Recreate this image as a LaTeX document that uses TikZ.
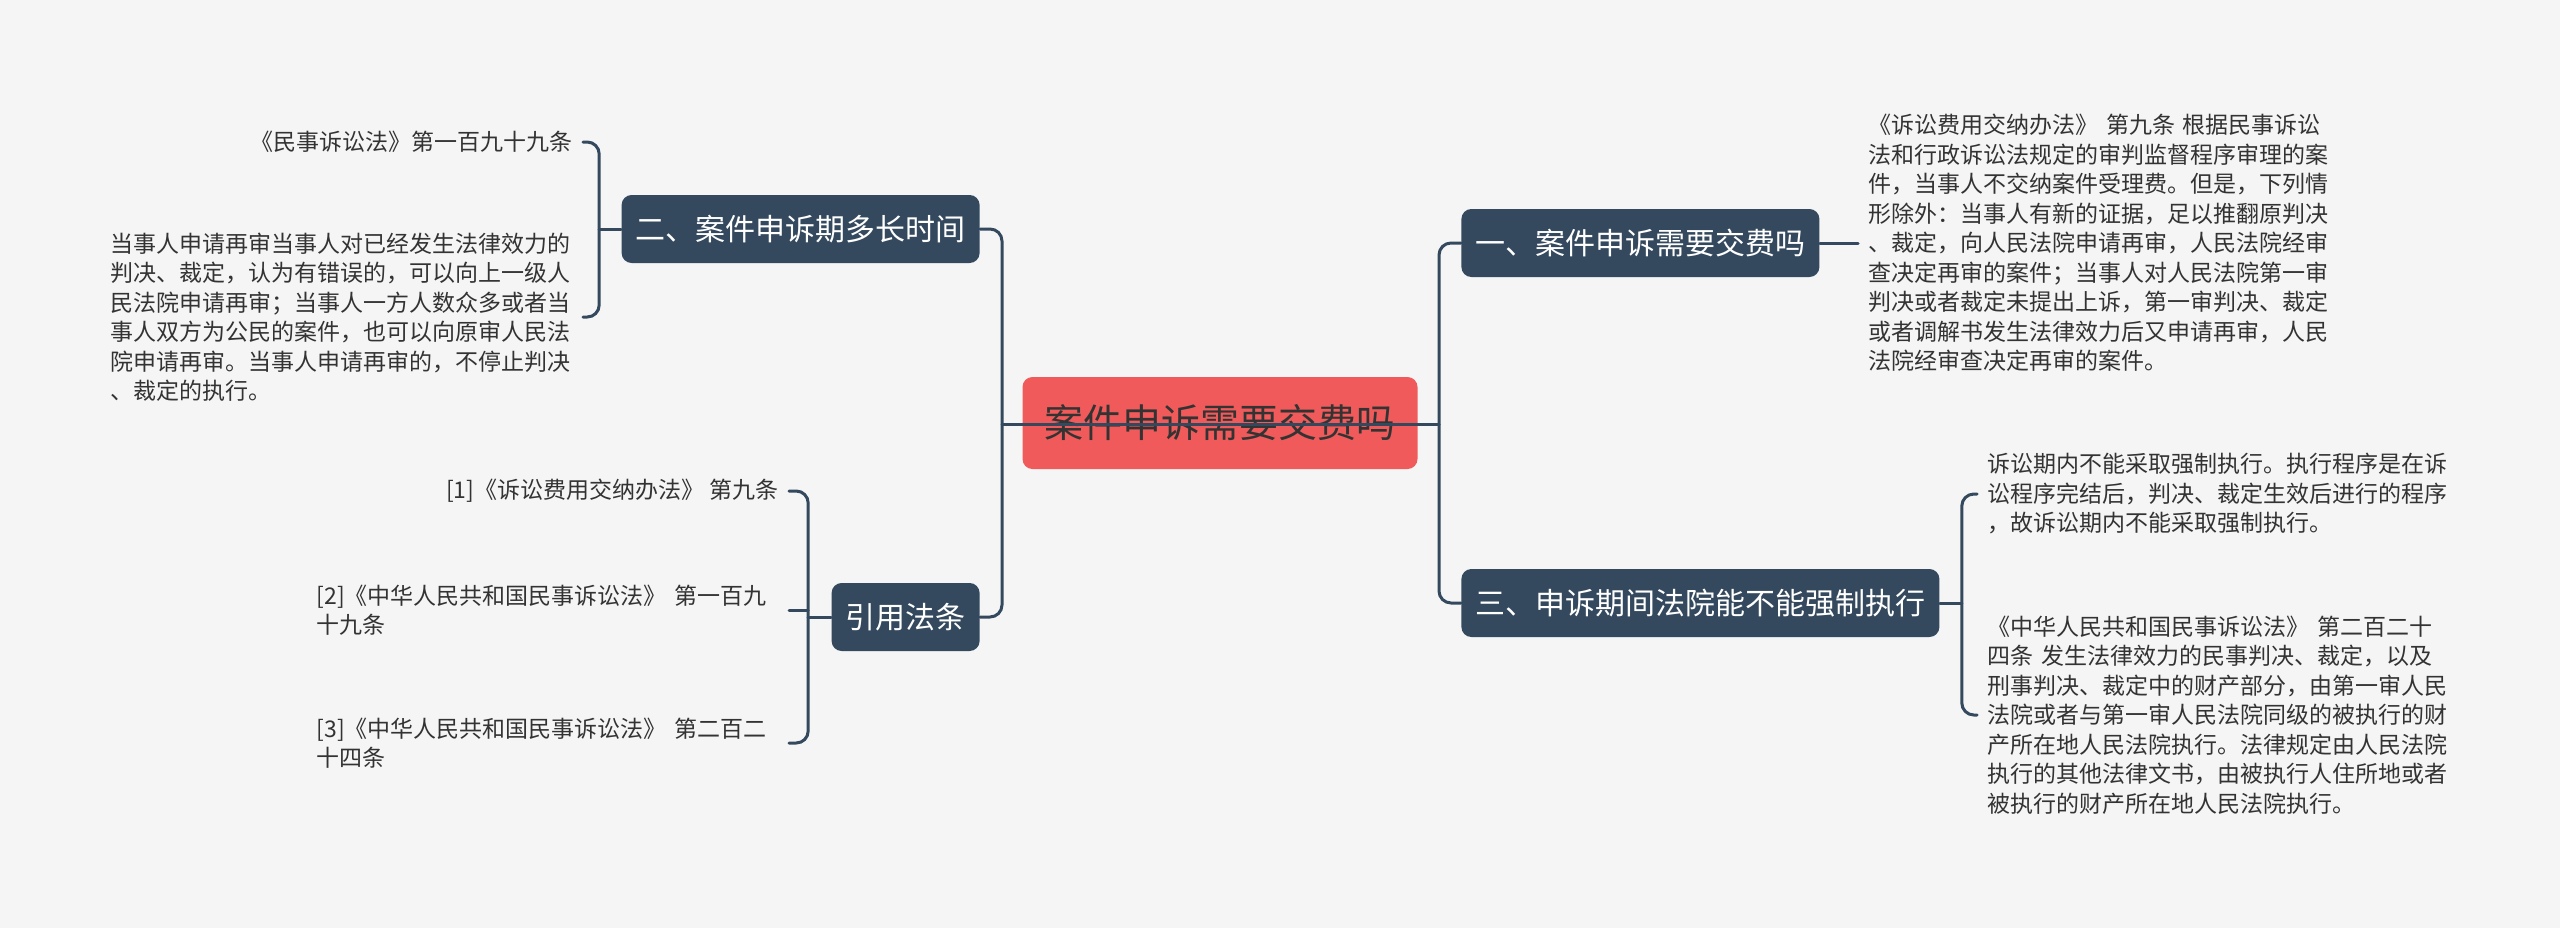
\documentclass[tikz,border=0pt]{standalone}
\usepackage{fontspec}
\setmainfont{Noto Sans CJK SC}
\definecolor{bgc}{HTML}{F5F5F5}
\definecolor{navy}{HTML}{34495E}
\definecolor{rootred}{HTML}{F05A5A}
\definecolor{txt}{HTML}{333333}
\begin{document}
\begin{tikzpicture}[x=0.5pt,y=-0.5pt, line join=round, line cap=round,
	link/.style={navy,line width=1.5pt,rounded corners=6pt},
	topic/.style={fill=navy,text=white,rounded corners=5pt,inner xsep=7pt,minimum height=34pt,font=\fontsize{15pt}{18pt}\selectfont},
	leaf/.style={text=txt,inner xsep=5pt,inner ysep=0pt,align=left,font=\fontsize{11.5pt}{14.75pt}\selectfont},
	wide/.style={leaf,text width=231pt}]
			\fill[bgc] (0,0) rectangle (2560,928);
			\node[fill=rootred,text=txt,rounded corners=5pt,inner xsep=11pt,minimum height=46pt,font=\fontsize{19.5pt}{23pt}\selectfont] (root) at (1220,423) {案件申诉需要交费吗};
			\node[topic,anchor=west] (b1) at (1461,243) {一、案件申诉需要交费吗};
			\node[topic,anchor=west] (b3) at (1461,603) {三、申诉期间法院能不能强制执行};
			\node[topic,anchor=east] (b2) at (980,229) {二、案件申诉期多长时间};
			\node[topic,anchor=east] (bref) at (980,617) {引用法条};
			\coordinate (jl) at (1002,424);
			\coordinate (jr) at (1439,424);
			\draw[link] (b2.east) -| (jl) |- (bref.east);
			\draw[link] (b1.west) -| (jr) |- (b3.west);
			\draw[link] (jl) -- (jr);
			% right side
			\node[wide,anchor=west] (l1) at (1858,243) {《诉讼费用交纳办法》 第九条 根据民事诉讼\\法和行政诉讼法规定的审判监督程序审理的案\\件，当事人不交纳案件受理费。但是，下列情\\形除外：当事人有新的证据，足以推翻原判决\\、裁定，向人民法院申请再审，人民法院经审\\查决定再审的案件；当事人对人民法院第一审\\判决或者裁定未提出上诉，第一审判决、裁定\\或者调解书发生法律效力后又申请再审，人民\\法院经审查决定再审的案件。};
			\draw[link] (b1.east) -- (l1.west);
			\node[wide,anchor=west] (l3a) at (1977,494) {诉讼期内不能采取强制执行。执行程序是在诉\\讼程序完结后，判决、裁定生效后进行的程序\\，故诉讼期内不能采取强制执行。};
			\node[wide,anchor=west] (l3b) at (1977,715) {《中华人民共和国民事诉讼法》 第二百二十\\四条 发生法律效力的民事判决、裁定，以及\\刑事判决、裁定中的财产部分，由第一审人民\\法院或者与第一审人民法院同级的被执行的财\\产所在地人民法院执行。法律规定由人民法院\\执行的其他法律文书，由被执行人住所地或者\\被执行的财产所在地人民法院执行。};
			\path (b3.east) ++(22,0) coordinate (j3);
			\draw[link] (b3.east) -- (j3);
			\draw[link] (l3a.west) -| (j3) |- (l3b.west);
			% left side
			\node[leaf,anchor=east] (l2a) at (583,142) {《民事诉讼法》第一百九十九条};
			\node[wide,anchor=east] (l2b) at (583,317) {当事人申请再审当事人对已经发生法律效力的\\判决、裁定，认为有错误的，可以向上一级人\\民法院申请再审；当事人一方人数众多或者当\\事人双方为公民的案件，也可以向原审人民法\\院申请再审。当事人申请再审的，不停止判决\\、裁定的执行。};
			\path (b2.west) ++(-22,0) coordinate (j2);
			\draw[link] (b2.west) -- (j2);
			\draw[link] (l2a.east) -| (j2) |- (l2b.east);
			\node[leaf,anchor=east] (r1) at (789,491) {[1]《诉讼费用交纳办法》 第九条};
			\node[wide,anchor=east] (r2) at (789,610) {[2]《中华人民共和国民事诉讼法》 第一百九\\十九条};
			\node[wide,anchor=east] (r3) at (789,743) {[3]《中华人民共和国民事诉讼法》 第二百二\\十四条};
			\path (bref.west) ++(-23,0) coordinate (jref);
			\draw[link] (bref.west) -- (jref);
			\draw[link] (r1.east) -| (jref) |- (r3.east);
			\draw[link] (r2.east) -- (r2.east -| jref);
	\end{tikzpicture}
\end{document}
